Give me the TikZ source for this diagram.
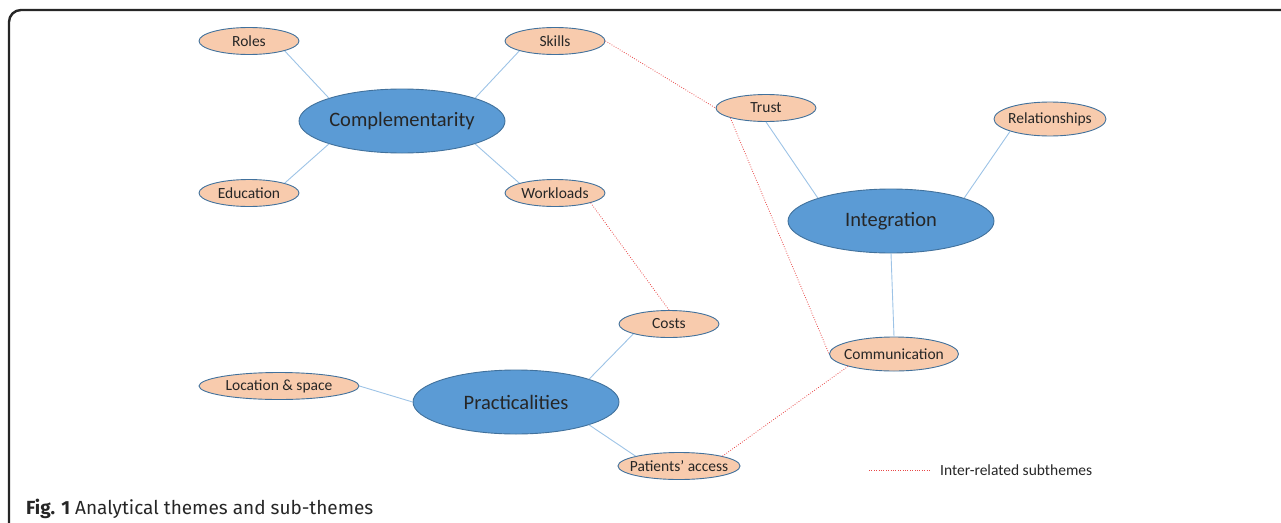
\documentclass[tikz,border=0pt]{standalone}
\usepackage{fontspec}
\setmainfont{Carlito}
\newfontfamily\capfont{Fira Sans}
\usetikzlibrary{shapes.geometric}
\definecolor{peach}{RGB}{248,203,173}
\definecolor{themeblue}{RGB}{91,155,213}
\definecolor{rimblue}{RGB}{65,113,156}
\definecolor{branchblue}{RGB}{157,195,230}
\definecolor{dotred}{RGB}{232,72,72}
\tikzstyle{theme} = [ellipse, draw=rimblue, fill=themeblue, line width=0.9pt,
    inner xsep=-6pt, inner ysep=-2pt, minimum width=206pt, minimum height=64pt,
    text=black!85, font=\fontsize{20.5}{24}\selectfont]
\tikzstyle{subtheme} = [ellipse, draw=rimblue, fill=peach, line width=0.9pt,
    inner xsep=-6pt, inner ysep=-2pt, minimum width=100pt, minimum height=27pt,
    text=black!85, font=\fontsize{15.5}{18}\selectfont]
\tikzstyle{branch} = [draw=branchblue, line width=0.9pt]
\tikzstyle{interlink} = [draw=dotred, line width=0.8pt, dash pattern=on 0.8pt off 1.6pt]

\begin{document}
\begin{tikzpicture}[x=1pt, y=-1pt]
    \useasboundingbox (0,0) rectangle (1281,522);
    % Frame
    \draw [line width=2.4pt, black!85] (9,530) -- (9,22) arc[start angle=180, end angle=90, radius=12pt] -- (1290,10);
    % Place themes
    \node [theme] (compl) at (402,121) {Complementarity};
    \node [theme] (integ) at (891,221) {Integration};
    \node [theme] (pract) at (516,402) {Practicalities};
    % Place sub-themes
    \node [subtheme] (roles) at (249,41) {Roles};
    \node [subtheme] (skills) at (555,41) {Skills};
    \node [subtheme] (educ) at (249,193) {Education};
    \node [subtheme] (work) at (555,193) {Workloads};
    \node [subtheme] (trust) at (766,108) {Trust};
    \node [subtheme, minimum width=112pt, minimum height=34pt] (relat) at (1050,119) {Relationships};
    \node [subtheme, minimum width=129pt, minimum height=34pt] (comm) at (894,354) {Communication};
    \node [subtheme] (costs) at (669,324) {Costs};
    \node [subtheme, minimum width=160pt] (locat) at (279,386) {Location \& space};
    \node [subtheme, minimum width=122pt] (access) at (679,466) {Patients’ access};
    % Draw edges
    \path [branch] (roles.south east) -- (compl.north west);
    \path [branch] (skills.south west) -- (compl.north east);
    \path [branch] (educ.north east) -- (compl.south west);
    \path [branch] (work.north west) -- (compl.south east);
    \path [branch] (trust.south) -- (integ.north west);
    \path [branch] (relat.south west) -- (integ.north east);
    \path [branch] (integ.south) -- (comm.north);
    \path [branch] (locat.east) -- (pract.west);
    \path [branch] (costs.south west) -- (pract.north east);
    \path [branch] (pract.south east) -- (access.north west);
    % Inter-related subthemes
    \path [interlink] (skills.east) -- (trust.west);
    \path [interlink] (work.south east) -- (costs.north);
    \path [interlink] (trust.south west) -- (comm.west);
    \path [interlink] (comm.south west) -- (access.north east);
    % Legend
    \node [anchor=west, inner sep=0pt, text=black!85, font=\fontsize{15.5}{18}\selectfont] (keytext) at (940,470) {Inter-related subthemes};
    \coordinate (keystart) at (869,470);
    \path [interlink] (keystart) -- ([xshift=-10pt]keytext.west);
    % Caption
    \node [anchor=base west, inner sep=0pt, text=black!85, font=\capfont\fontsize{19}{22}\selectfont] (caption) at (26,514) {\textbf{Fig. 1} Analytical themes and sub-themes};
\end{tikzpicture}
\end{document}
